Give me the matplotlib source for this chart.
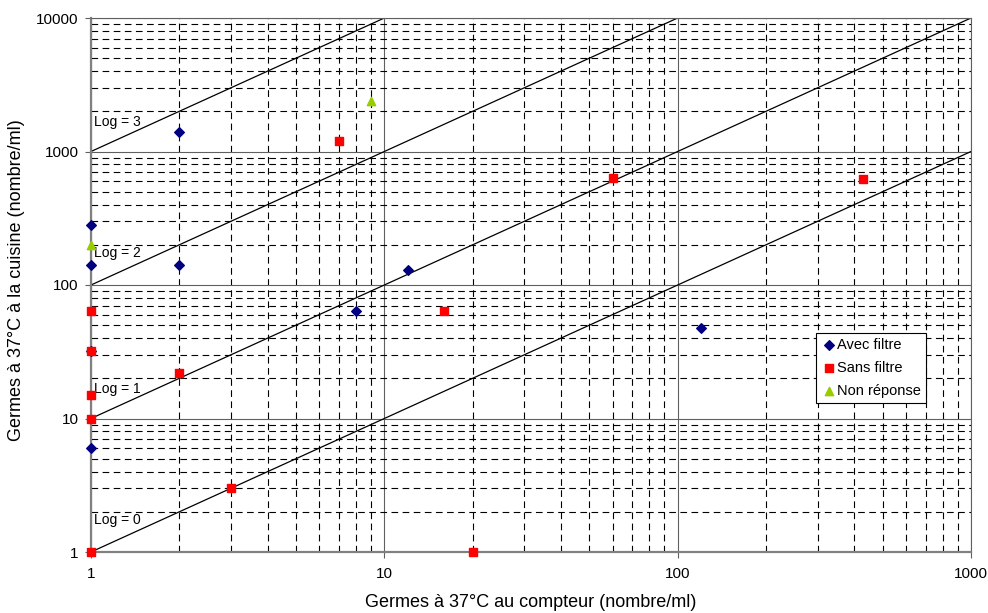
import numpy as np
import matplotlib
matplotlib.use("Agg")
import matplotlib.pyplot as plt
from matplotlib.ticker import LogLocator, FixedLocator, NullFormatter

plt.rcParams["font.family"] = ["Liberation Sans", "DejaVu Sans"]

# Avec filtre
AVEC_X = [1, 1, 2, 2, 12, 8, 120, 1, 1]
AVEC_Y = [280, 140, 1400, 140, 130, 64, 48, 32, 6]
# Sans filtre
SANS_X = [1, 1, 1, 1, 1, 2, 3, 7, 16, 20, 60, 430]
SANS_Y = [64, 32, 15, 10, 1, 22, 3, 1200, 64, 1, 630, 620]
# Non réponse
NON_X = [1, 9]
NON_Y = [200, 2400]

LOG_LINES = [0, 1, 2, 3]
LOG_LABEL_Y = [1.75, 16.5, 175, 1650]


def main() -> None:
    fig = plt.figure(figsize=(9.88, 6.13), dpi=100)
    ax = fig.add_axes([91 / 988, 61 / 613, 880 / 988, 534 / 613])
    ax.set_xscale("log")
    ax.set_yscale("log")
    ax.set_xlim(1, 1000)
    ax.set_ylim(1, 10000)

    # grid: major solid grey, minor dashed black
    ax.xaxis.set_minor_locator(LogLocator(base=10, subs=np.arange(2, 10)))
    ax.yaxis.set_minor_locator(LogLocator(base=10, subs=np.arange(2, 10)))
    ax.xaxis.set_minor_formatter(NullFormatter())
    ax.yaxis.set_minor_formatter(NullFormatter())
    ax.grid(which="major", color="#606060", linewidth=0.8, linestyle="-")
    ax.grid(which="minor", color="black", linewidth=0.8,
            linestyle=(0, (6, 4)))
    ax.set_axisbelow(True)

    xs = np.array([1, 1000])
    for k in LOG_LINES:
        ax.plot(xs, xs * 10 ** k, color="black", linewidth=0.9, zorder=2)
    for k, yl in zip(LOG_LINES, LOG_LABEL_Y):
        ax.text(1.02, yl, f"Log = {k}", fontsize=10, ha="left",
                va="center", zorder=3)

    ax.scatter(AVEC_X, AVEC_Y, marker="D", s=24, color="#000080",
               label="Avec filtre", zorder=4, clip_on=False)
    ax.scatter(SANS_X, SANS_Y, marker="s", s=28, color="#ff0000",
               label="Sans filtre", zorder=5, clip_on=False)
    ax.scatter(NON_X, NON_Y, marker="^", s=36, color="#99cc00",
               label="Non réponse", zorder=5, clip_on=False)

    ax.xaxis.set_major_locator(FixedLocator([1, 10, 100, 1000]))
    ax.yaxis.set_major_locator(FixedLocator([1, 10, 100, 1000, 10000]))
    ax.set_xticklabels(["1", "10", "100", "1000"])
    ax.set_yticklabels(["1", "10", "100", "1000", "10000"])
    ax.tick_params(which="major", length=4, width=0.8, labelsize=11,
                   color="#606060", direction="out")
    ax.tick_params(which="minor", length=0)
    ax.tick_params(axis="x", pad=7)
    ax.tick_params(axis="y", pad=5)

    for side in ("top", "right"):
        ax.spines[side].set_color("#606060")
        ax.spines[side].set_linewidth(0.8)
    for side in ("left", "bottom"):
        ax.spines[side].set_color("#808080")
        ax.spines[side].set_linewidth(1.6)

    ax.set_xlabel("Germes à 37°C au compteur (nombre/ml)", fontsize=13)
    ax.set_ylabel("Germes à 37°C à la cuisine (nombre/ml)", fontsize=13)
    ax.xaxis.set_label_coords(0.5, -0.078)
    ax.yaxis.set_label_coords(-0.075, 0.51)

    leg = ax.legend(loc="upper left", bbox_to_anchor=(0.824, 0.41),
                    fontsize=10.5, frameon=True, fancybox=False,
                    handletextpad=0.1, handlelength=1.0,
                    borderpad=0.35, labelspacing=0.6, borderaxespad=0)
    leg.get_frame().set_edgecolor("black")
    leg.get_frame().set_linewidth(0.8)
    leg.get_frame().set_alpha(1)

    fig.savefig("out.png", dpi=100)


if __name__ == "__main__":
    main()
